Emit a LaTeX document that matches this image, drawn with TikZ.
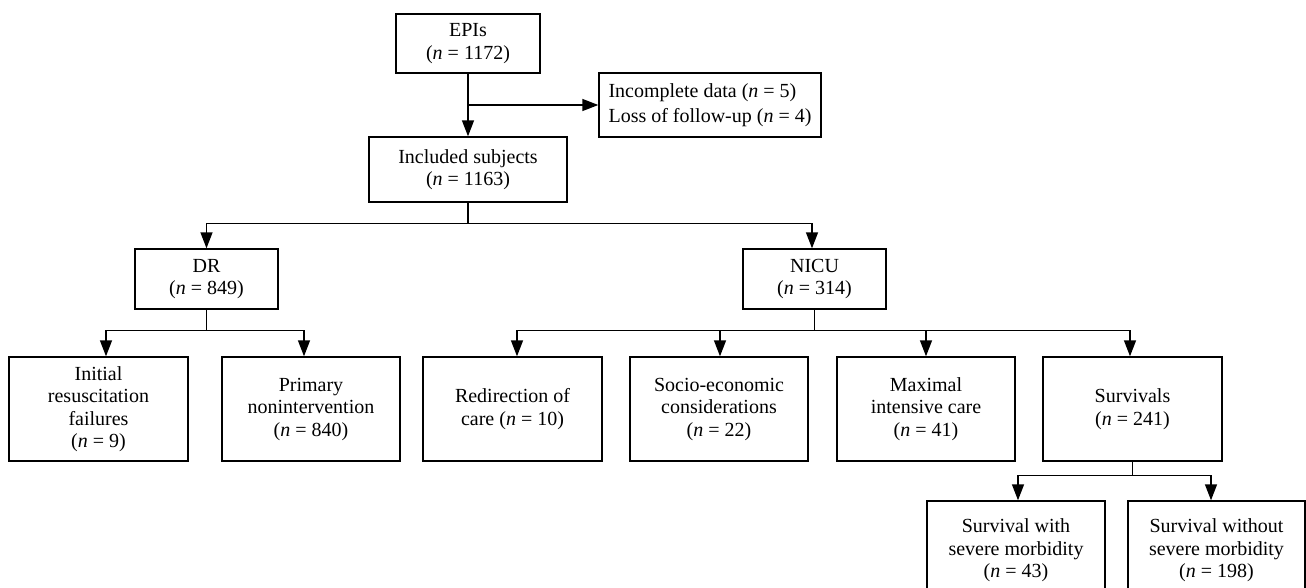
\documentclass[tikz,border=0pt]{standalone}
\usepackage{fontspec}
\setmainfont{Liberation Serif}
\usetikzlibrary{arrows.meta}
\begin{document}
\begin{tikzpicture}[x=1pt,y=-1pt,
  box/.style={draw, line width=1.4pt, inner sep=0pt, align=center, font=\fontsize{20}{22.5}\selectfont},
  arr/.style={line width=1.4pt, -{Triangle[width=12pt,length=16pt]}},
  ln/.style={line width=1.4pt}]
\useasboundingbox (0,0) rectangle (1306,587);
\clip (0,0) rectangle (1306,587);
\node[box, minimum width=144pt, minimum height=59pt] (epi) at (468,43.5) {EPIs\\(\textit{n} = 1172)};
\node[box, align=left, font=\fontsize{20}{25}\selectfont, minimum width=222pt, minimum height=64pt] (inc) at (710,105) {Incomplete data (\textit{n} = 5)\\Loss of follow-up (\textit{n} = 4)};
\node[box, minimum width=198pt, minimum height=65pt] (incl) at (468,169.5) {Included subjects\\(\textit{n} = 1163)};
\node[box, minimum width=143pt, minimum height=60pt] (dr) at (206.5,279) {DR\\(\textit{n} = 849)};
\node[box, minimum width=143pt, minimum height=60pt] (nicu) at (814.5,279) {NICU\\(\textit{n} = 314)};
\node[box, minimum width=179pt, minimum height=104pt] (ini) at (98.5,409) {Initial\\resuscitation\\failures\\(\textit{n} = 9)};
\node[box, minimum width=178pt, minimum height=104pt] (pri) at (311,409) {Primary\\nonintervention\\(\textit{n} = 840)};
\node[box, minimum width=179pt, minimum height=104pt] (red) at (512.5,409) {Redirection of\\care (\textit{n} = 10)};
\node[box, minimum width=178pt, minimum height=104pt] (soc) at (719,409) {Socio-economic\\considerations\\(\textit{n} = 22)};
\node[box, minimum width=178pt, minimum height=104pt] (max) at (926,409) {Maximal\\intensive care\\(\textit{n} = 41)};
\node[box, minimum width=179pt, minimum height=104pt] (sur) at (1132.5,409) {Survivals\\(\textit{n} = 241)};
\node[box, minimum width=178pt, minimum height=99pt] (swi) at (1016,550.5) {Survival with\\severe morbidity\\(\textit{n} = 43)};
\node[box, minimum width=177pt, minimum height=99pt] (swo) at (1216.5,550.5) {Survival without\\severe morbidity\\(\textit{n} = 198)};
% connectors
\draw[arr] (epi.south) -- (incl.north);
\draw[arr] (epi.south |- inc.west) -- (inc.west);
\draw[arr] (incl.south) -- ++(0,21) -| (dr.north);
\draw[arr] (incl.south) -- ++(0,21) -| ([xshift=-2.5pt]nicu.north);
\draw[arr] (dr.south) -- ++(0,21) -| ([xshift=7.5pt]ini.north);
\draw[arr] (dr.south) -- ++(0,21) -| ([xshift=-7pt]pri.north);
\draw[arr] (nicu.south) -- ++(0,21) -| ([xshift=4.5pt]red.north);
\draw[arr] (nicu.south) -- ++(0,21) -| ([xshift=1pt]soc.north);
\draw[arr] (nicu.south) -- ++(0,21) -| (max.north);
\draw[arr] (nicu.south) -- ++(0,21) -| ([xshift=-2.5pt]sur.north);
\draw[arr] (sur.south) -- ++(0,14) -| ([xshift=2pt]swi.north);
\draw[arr] (sur.south) -- ++(0,14) -| ([xshift=-5.5pt]swo.north);
\end{tikzpicture}
\end{document}
